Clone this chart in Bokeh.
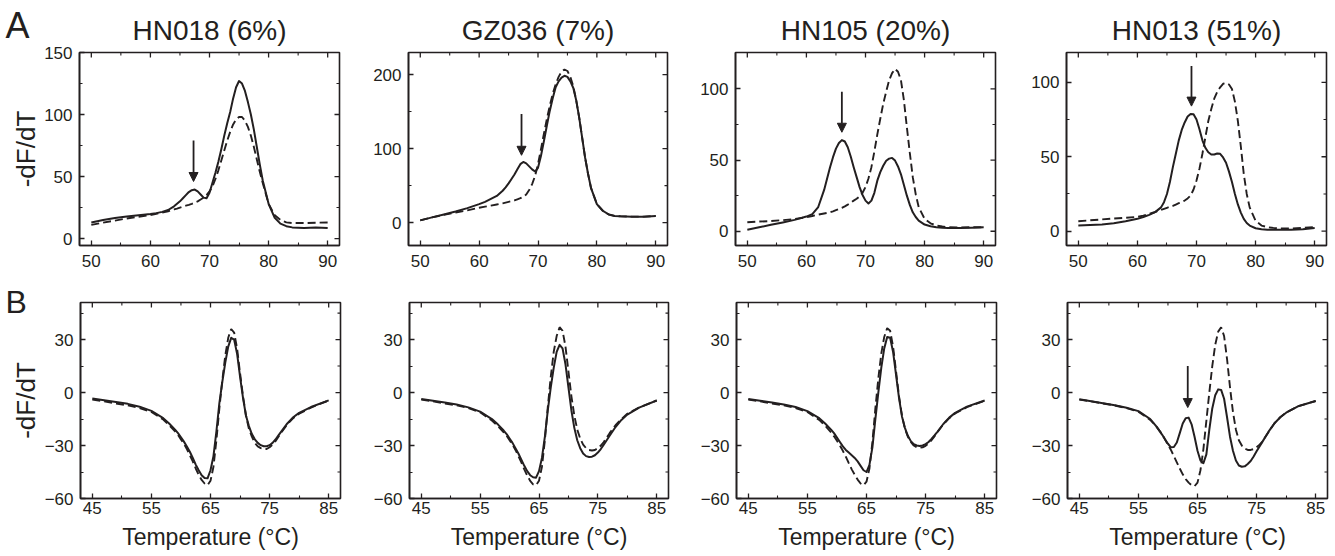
from bokeh.plotting import figure
from bokeh.layouts import row, column
from bokeh.models import Range1d, FixedTicker, Arrow, NormalHead
from bokeh.embed import file_html
from bokeh.resources import INLINE

# ---------------- data ----------------
titles = ["HN018 (6%)", "GZ036 (7%)", "HN105 (20%)", "HN013 (51%)"]
row_letters = ["A", "B"]
y_label = "-dF/dT"
x_label = "Temperature (°C)"

# Row A: temperature grid (°C)
temp_a = [50, 52, 54, 56, 58, 60, 61, 62, 63, 64, 64.5, 65, 65.5, 66, 66.5, 67, 67.5, 68, 68.5,
          69, 69.5, 70, 70.5, 71, 71.5, 72, 72.5, 73, 73.5, 74, 74.5, 75, 75.5, 76, 76.5, 77,
          77.5, 78, 78.5, 79, 80, 81, 82, 83, 84, 86, 88, 90]

a1_solid = [13, 15, 16.5, 17.8, 18.8, 19.8, 20.5, 21.5, 23, 26, 28, 30, 32.5, 35, 37.5, 39, 39.5, 38,
            35.5, 33, 32.5, 37, 45, 53, 62, 72, 83, 93, 102, 113, 122, 127, 125, 119, 110, 100,
            88, 74, 60, 47, 28, 17, 12, 10, 9, 8.5, 9, 8.5]
a1_dash = [11, 12.8, 14.5, 16.2, 17.6, 19, 20, 21, 22, 23.5, 24.2, 25, 25.8, 26.5, 27.2, 28, 29, 30,
           31.5, 33, 35, 38, 42, 48, 55, 63, 71, 79, 86, 92, 96, 98, 98, 95, 90, 83,
           74, 64, 54, 45, 28, 19, 15, 13, 12.5, 12.5, 12.8, 13]

a2_solid = [3, 7, 11, 15, 19.5, 25, 28, 32, 36, 43, 47.5, 53, 59, 65, 72, 79, 82, 80, 76,
            72, 69, 74, 90, 110, 131, 151, 168, 183, 191, 196, 198.5, 197, 191, 182, 165, 142,
            115, 88, 66, 47, 25, 16, 11, 9, 8.5, 8, 8, 9]
a2_dash = [3, 7, 10.5, 13.5, 16.5, 20, 21.5, 23, 24.5, 26, 27, 28, 29, 30, 31.5, 33, 35, 38, 44,
           52, 63, 79, 99, 120, 140, 158, 174, 187, 197, 204, 207, 205, 197, 184, 165, 142,
           115, 88, 66, 47, 25, 16, 11, 9, 8.5, 8, 8, 9]

a3_solid = [1, 2.8, 4.5, 6.2, 8, 10.3, 12, 17, 29, 45, 52, 58, 62, 64, 63, 59, 52.5, 45, 38,
            31, 25.5, 21.5, 19.5, 21.5, 27, 35.5, 41.5, 46, 49.5, 51, 51.5, 49.6, 45.5, 40, 32.5, 25,
            18.5, 13.3, 10, 7.5, 4.7, 3.5, 2.8, 2.5, 2.3, 2.3, 2.5, 2.8]
a3_dash = [6.3, 6.8, 7.2, 7.8, 8.6, 9.8, 10.7, 11.7, 12.5, 13.3, 14, 14.8, 15.6, 16.4, 17.5, 18.7, 20, 21.5, 22.8,
           24.5, 27, 31, 37, 45, 56, 68, 79, 89.5, 98, 106, 111, 114, 112, 106, 92, 73,
           55, 38, 26, 17, 8.7, 5.6, 4, 3.3, 2.9, 2.7, 2.8, 2.8]

a4_solid = [3.8, 4.1, 4.5, 5.3, 6.7, 8.3, 9.5, 11, 12.8, 16, 19.5, 25, 33, 43, 52, 61, 68, 73, 77,
            78.7, 78.5, 75, 68.5, 61, 56, 53, 51.5, 51.5, 52.2, 52, 49.5, 46, 40, 33, 25, 18,
            12.5, 8.3, 5.5, 3.8, 2, 1.3, 1, 1, 1, 1, 1.3, 2.2]
a4_dash = [6.7, 7.3, 7.9, 8.5, 9, 9.6, 10.5, 11.6, 12.9, 14.3, 15, 15.7, 16.4, 17, 17.9, 18.8, 19.7, 20.6, 22,
           24, 28, 34, 42, 52, 63, 74, 82, 89, 93.5, 96.6, 99, 99.5, 98.5, 95.5, 87, 74,
           57, 38.5, 25, 16, 7, 3.8, 2.7, 2.2, 1.9, 1.8, 2.2, 2.7]

# Row B: temperature grid (°C)
temp_b = [45, 47, 49, 51, 53, 55, 57, 58, 59, 59.5, 60, 60.5, 61, 61.5, 62, 62.5, 63, 63.5, 64, 64.5,
          65, 65.5, 66, 66.5, 67, 67.5, 68, 68.5, 69, 69.5, 70, 70.5, 71, 71.5, 72, 72.5, 73, 73.5,
          74, 74.5, 75, 75.5, 76, 76.5, 77, 78, 79, 80, 82, 85]

b1_solid = [-3.4, -4.4, -5.4, -6.4, -8, -10.4, -14.5, -17.5, -21, -23, -25.3, -27.8, -30.5, -33.5, -37, -40.8, -44, -46.8, -48.4, -48.6,
            -44, -36, -22, -6, 6, 17, 26, 31, 30, 22, 9, -3, -13, -19, -23.5, -26.5, -28.5, -29.8,
            -30.4, -30.4, -29.8, -28.5, -26.6, -24.3, -22, -17.5, -14, -11.5, -8.2, -4.4]
b1_dash = [-4, -5, -6.2, -7.2, -8.8, -11, -15.3, -18.5, -22, -24, -26.5, -29, -32, -35.5, -39, -43, -46.5, -49.5, -51.5, -52.5,
           -50, -42, -27, -9, 7, 21, 31, 36, 34, 25, 11, -2, -13, -20.5, -25, -28.5, -30.5, -31.5,
           -32, -32, -31, -29.5, -27.5, -25, -22.5, -18, -14.5, -12, -8.5, -4.5]

b2_solid = [-3.6, -4.6, -5.6, -6.8, -8.4, -10.8, -15, -18, -21.5, -23.5, -26, -28.5, -31.5, -34.5, -38, -41.5, -44.5, -46.8, -48, -48.2,
            -44.5, -37, -25, -10, 3, 14, 23, 27, 25, 16, 3, -10, -20, -27, -31.5, -34.5, -36, -36.5,
            -36.3, -35.5, -34, -32, -29.5, -27, -24.5, -19.5, -15.5, -12.5, -8.5, -4.5]
b2_dash = [-4, -5, -6.2, -7.2, -8.8, -11.2, -15.8, -19, -22.5, -24.5, -27, -29.5, -32.5, -36, -39.5, -43.5, -47, -50, -52, -52.5,
           -50, -42, -27, -8, 9, 23, 32, 37, 35, 26, 12, -2, -13, -21, -26, -29.5, -31.5, -32.5,
           -32.8, -32.5, -31.5, -30, -28, -25.5, -23, -18.5, -15, -12, -8.5, -4.5]

b3_solid = [-3.6, -4.6, -5.6, -6.8, -8.2, -10.5, -14.5, -17.5, -21, -23, -25.5, -28, -30.5, -32.5, -34, -35.5, -37, -39, -41.5, -44,
            -45, -41, -31, -15, 0, 14, 25, 31.5, 31, 23, 10, -3, -13.5, -20, -24.5, -27.5, -29.2, -30,
            -30.3, -30, -29.2, -28, -26.3, -24.3, -22.2, -17.8, -14.2, -11.5, -8, -4.5]
b3_dash = [-4, -5, -6.2, -7.2, -8.8, -11, -15.5, -18.8, -22.5, -24.8, -27.3, -30, -33, -36.3, -40, -43.5, -46.5, -49.3, -51.5, -52.5,
           -50.5, -43, -28, -9, 8, 22, 31.5, 36.5, 35, 26, 12, -2, -13, -20.5, -25, -28, -30, -31,
           -31.3, -31, -30.2, -28.8, -27, -24.8, -22.5, -18, -14.5, -11.8, -8.3, -4.6]

b4_solid = [-3.8, -4.9, -6, -7.2, -8.6, -10.5, -15, -19, -23.8, -26.5, -29, -31, -30.8, -28.3, -23, -17.5, -14.5, -14.2, -18, -25,
            -33, -38.5, -40, -35, -21, -9, -1.5, 1.8, 1.5, -3.5, -14, -25, -33, -38.5, -41.3, -42, -41.8, -40.5,
            -38.8, -36.2, -33.3, -30.5, -27.8, -25, -22.3, -17.5, -14, -11.4, -7.8, -4.8]
b4_dash = [-4, -5, -6.2, -7.3, -8.8, -10.8, -15.5, -19, -23.5, -26.5, -29.5, -32.5, -36, -39.5, -43, -46.3, -49, -51, -52.5, -53,
           -51, -44, -32, -16, 0, 15, 27, 34.5, 37, 32, 19, 3, -11, -21, -27, -30, -31.8, -32.5,
           -32.5, -32, -31, -29.5, -27.8, -25, -22.5, -17.5, -14, -11.4, -7.8, -4.8]

# axis ranges / ticks
a_xrange = (48, 92)
b_xrange = (43, 87)
a_xticks = [50, 60, 70, 80, 90]
a_xminor = [55, 65, 75, 85]
b_xticks = [45, 55, 65, 75, 85]
b_xminor = [50, 60, 70, 80]
a_yranges = [(-5.6, 150), (-31, 230), (-10, 125.5), (-9.6, 120)]
a_yticks = [[0, 50, 100, 150], [0, 100, 200], [0, 50, 100], [0, 50, 100]]
a_yminor = [[25, 75, 125], [50, 150], [25, 75], [25, 75]]
b_yrange = (-60, 51)
b_yticks = [-60, -30, 0, 30]
b_yminor = [-45, -15, 15, 45]

# arrows marking the minor peak: x, top, tip
arrow_a_x = [67.3, 67.2, 66.0, 69.15]
arrow_a_top = [79, 147, 98, 111]
arrow_a_tip = [46, 91, 69.5, 84]
arrow_b4 = (63.35, 15, -8.5)

# ---------------- styling / layout ----------------
FONT = "Liberation Sans"
INK = "#231f20"
border_left = [36, 66, 63, 64]
frame_w = [260, 259, 260, 260]
border_right = [3, 5, 7, 11]
MAJ, MIN = 5, 3


def style_axis(ax, ticks, minor, standoff):
    ax.ticker = FixedTicker(ticks=ticks, minor_ticks=minor)
    ax.major_tick_in = MAJ
    ax.major_tick_out = 0
    ax.minor_tick_in = MIN
    ax.minor_tick_out = 0
    ax.axis_line_color = INK
    ax.axis_line_width = 1.6
    ax.major_tick_line_color = INK
    ax.major_tick_line_width = 1.3
    ax.minor_tick_line_color = INK
    ax.minor_tick_line_width = 1.1
    ax.major_label_text_font = FONT
    ax.major_label_text_font_size = "17px"
    ax.major_label_text_color = INK
    ax.major_label_standoff = standoff


def mirror_ticks(p, xr, yr, fw, fh, xt, xm, yt, ym):
    dx = (xr[1] - xr[0]) / fw
    dy = (yr[1] - yr[0]) / fh
    for ticks, length, lw in ((xt, MAJ, 1.3), (xm, MIN, 1.1)):
        tx = [t for t in ticks if xr[0] < t < xr[1]]
        p.segment(x0=tx, y0=[yr[1]] * len(tx), x1=tx, y1=[yr[1] - length * dy] * len(tx),
                  line_color=INK, line_width=lw)
    for ticks, length, lw in ((yt, MAJ, 1.3), (ym, MIN, 1.1)):
        ty = [t for t in ticks if yr[0] < t < yr[1]]
        p.segment(x0=[xr[1]] * len(ty), y0=ty, x1=[xr[1] - length * dx] * len(ty), y1=ty,
                  line_color=INK, line_width=lw)


def panel(col, xs, ys_solid, ys_dash, xr, yr, xt, xm, yt, ym, btop, fh, bbot, xstandoff, title):
    p = figure(frame_width=frame_w[col], frame_height=fh, title=title or "",
               x_range=Range1d(*xr), y_range=Range1d(*yr),
               min_border_left=border_left[col], min_border_right=border_right[col],
               min_border_top=btop, min_border_bottom=bbot,
               output_backend="svg", toolbar_location=None)
    p.grid.visible = False
    p.outline_line_color = INK
    p.outline_line_width = 1.6
    p.background_fill_color = "white"
    p.border_fill_color = "white"
    if title:
        p.title.align = "center"
        p.title.vertical_align = "bottom"
        p.title.standoff = 14
        p.title.text_font = FONT
        p.title.text_font_size = "28px"
        p.title.text_font_style = "normal"
        p.title.text_color = INK
    else:
        p.title.visible = False
    style_axis(p.xaxis[0], xt, xm, xstandoff)
    style_axis(p.yaxis[0], yt, ym, 7)
    mirror_ticks(p, xr, yr, frame_w[col], fh, xt, xm, yt, ym)
    p.line(xs, ys_dash, line_color=INK, line_width=1.9, line_dash="8 4")
    p.line(xs, ys_solid, line_color=INK, line_width=2.0, line_join="round")
    return p


def side_panel(letter, letter_size, valign, letter_standoff, letter_offset, btop, fh, bbot):
    """Narrow, empty figure that carries the row letter and the y-axis label."""
    p = figure(frame_width=1, frame_height=fh, title=letter,
               x_range=Range1d(0, 1), y_range=Range1d(0, 1),
               min_border_left=40, min_border_right=0,
               min_border_top=btop, min_border_bottom=bbot,
               output_backend="svg", toolbar_location=None)
    p.grid.visible = False
    p.outline_line_color = None
    p.background_fill_color = "white"
    p.border_fill_color = "white"
    p.xaxis.visible = False
    ax = p.yaxis[0]
    ax.ticker = FixedTicker(ticks=[])
    ax.axis_line_color = None
    ax.major_tick_line_color = None
    ax.minor_tick_line_color = None
    ax.major_label_standoff = 0
    ax.axis_label = y_label
    ax.axis_label_standoff = 0
    ax.axis_label_text_font = FONT
    ax.axis_label_text_font_size = "26px"
    ax.axis_label_text_font_style = "normal"
    ax.axis_label_text_color = INK
    p.title.align = "left"
    p.title.offset = letter_offset
    p.title.vertical_align = valign
    p.title.standoff = letter_standoff
    p.title.text_font = FONT
    p.title.text_font_size = letter_size
    p.title.text_font_style = "normal"
    p.title.text_color = INK
    return p


def add_arrow(p, x, top, tip):
    p.add_layout(Arrow(end=NormalHead(size=9, fill_color=INK, line_color=INK, line_width=1),
                       x_start=x, y_start=top, x_end=x, y_end=tip,
                       line_color=INK, line_width=1.8))


a_solids = [a1_solid, a2_solid, a3_solid, a4_solid]
a_dashes = [a1_dash, a2_dash, a3_dash, a4_dash]
b_solids = [b1_solid, b2_solid, b3_solid, b4_solid]
b_dashes = [b1_dash, b2_dash, b3_dash, b4_dash]

FH_A, FH_B = 193, 196

top_row = [side_panel(row_letters[0], "36px", "top", 9, -35, 52, FH_A, 30)]
for i in range(4):
    p = panel(i, temp_a, a_solids[i], a_dashes[i], a_xrange, a_yranges[i],
              a_xticks, a_xminor, a_yticks[i], a_yminor[i], 52, FH_A, 30, 9, titles[i])
    add_arrow(p, arrow_a_x[i], arrow_a_top[i], arrow_a_tip[i])
    top_row.append(p)

# the letter "B" straddles the frame top: a negative standoff lowers it
bottom_row = [side_panel(row_letters[1], "32px", "bottom", -34, -35, 27, FH_B, 58)]
for i in range(4):
    p = panel(i, temp_b, b_solids[i], b_dashes[i], b_xrange, b_yrange,
              b_xticks, b_xminor, b_yticks, b_yminor, 27, FH_B, 58, 3, None)
    ax = p.xaxis[0]
    ax.axis_label = x_label
    ax.axis_label_standoff = 7
    ax.axis_label_text_font = FONT
    ax.axis_label_text_font_size = "23px"
    ax.axis_label_text_font_style = "normal"
    ax.axis_label_text_color = INK
    if i == 3:
        add_arrow(p, arrow_b4[0], arrow_b4[1], arrow_b4[2])
    bottom_row.append(p)

layout = column(row(*top_row, spacing=0), row(*bottom_row, spacing=0), spacing=0)

open("out.html", "w").write(file_html(layout, INLINE))
